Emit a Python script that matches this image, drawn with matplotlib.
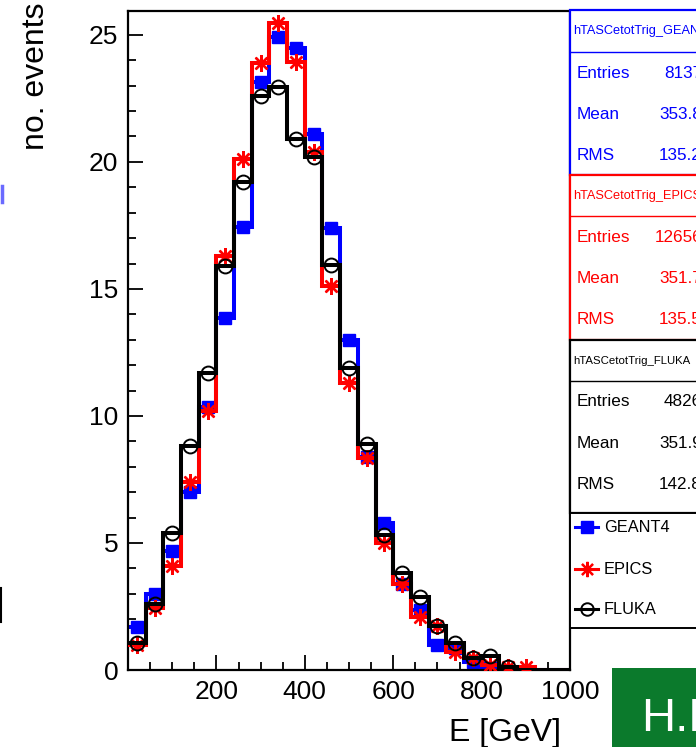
import numpy as np
import matplotlib
matplotlib.use("Agg")
import matplotlib.pyplot as plt
from matplotlib.patches import Rectangle
from matplotlib.lines import Line2D
from matplotlib.ticker import MultipleLocator

plt.rcParams['font.family'] = ['Liberation Sans', 'DejaVu Sans']

# ---------------- data ----------------
bin_edges = np.arange(0, 1001, 40)
geant4 = [1.69, 3.0, 4.7, 7.0, 10.35, 13.85, 17.45, 23.15, 24.9, 24.5, 21.1, 17.4, 13.0,
          8.4, 5.8, 3.4, 2.35, 1.0, 0.85, 0.33, 0.08, 0.0, 0.0, 0.0, 0.0]
epics = [1.0, 2.45, 4.1, 7.4, 10.2, 16.3, 20.1, 23.9, 25.45, 23.95, 20.4, 15.1, 11.3,
         8.35, 5.0, 3.4, 2.1, 1.73, 0.72, 0.47, 0.2, 0.12, 0.1, 0.0, 0.0]
fluka = [1.06, 2.6, 5.4, 8.8, 11.7, 15.9, 19.2, 22.6, 22.95, 20.9, 20.2, 15.95, 11.9,
         8.9, 5.3, 3.8, 2.87, 1.73, 1.06, 0.48, 0.55, 0.12, 0.0, 0.0, 0.0]

series_names = ['GEANT4', 'EPICS', 'FLUKA']
hist_names = ['hTASCetotTrig_GEANT4', 'hTASCetotTrig_EPICS', 'hTASCetotTrig_FLUKA']
stat_entries = ['8137', '12656', '4826']
stat_mean = ['353.8', '351.7', '351.9']
stat_rms = ['135.2', '135.5', '142.8']

x_ticks = [0, 200, 400, 600, 800, 1000]
x_tick_labels = ['', '200', '400', '600', '800', '1000']
y_ticks = [0, 5, 10, 15, 20, 25]
y_tick_labels = ['0', '5', '10', '15', '20', '25']

# ---------------- figure ----------------
W, H = 696, 747
fig = plt.figure(figsize=(W / 100, H / 100), dpi=100)
fig.patch.set_facecolor('white')

ax = fig.add_axes([128 / W, 1 - 670 / H, 442 / W, 659 / H])
centers = 0.5 * (bin_edges[:-1] + bin_edges[1:])

styles = [
    (geant4, '#0000ff', dict(marker='s', ms=9, mfc='#0000ff', mec='#0000ff', mew=1)),
    (epics, '#ff0000', dict(marker=(8, 2, 0), ms=12, mfc='none', mec='#ff0000', mew=1.7)),
    (fluka, '#000000', dict(marker='o', ms=10, mfc='none', mec='#000000', mew=1.4)),
]
z = 2
for vals, col, mk in styles:
    v = np.asarray(vals)
    ax.stairs(v, bin_edges, color=col, lw=2.9, baseline=None, zorder=z)
    m = v > 0
    ax.plot(centers[m], v[m], ls='none', zorder=z + 0.5, **mk)
    z += 1

ax.set_xlim(0, 1000)
ax.set_ylim(0, 25.94)
ax.set_xticks(x_ticks)
ax.set_xticklabels(x_tick_labels)
ax.set_yticks(y_ticks)
ax.set_yticklabels(y_tick_labels)
ax.xaxis.set_minor_locator(MultipleLocator(50))
ax.yaxis.set_minor_locator(MultipleLocator(1))
ax.tick_params(which='both', direction='in', top=False, right=False, width=1.3,
               labelsize=19, colors='black')
ax.tick_params(which='major', length=11)
ax.tick_params(which='minor', length=6)
ax.tick_params(axis='x', pad=7)
ax.tick_params(axis='y', pad=7)
for s in ax.spines.values():
    s.set_linewidth(1.6)

# axis titles (ROOT style, aligned to ends)
fig.text(561 / W, (H - 741) / H, 'E [GeV]', fontsize=23, ha='right', va='baseline')
fig.text(36 / W, 1 - 3 / H, 'no. events', fontsize=23, rotation=90, ha='center', va='top')

# ---------------- overlay (stat boxes, legend, slide bits) ----------------
ov = fig.add_axes([0, 0, 1, 1], zorder=10)
ov.set_xlim(0, W)
ov.set_ylim(H, 0)
ov.axis('off')
ov.patch.set_alpha(0)

box_x0, box_x1 = 570, 720
val_x = 702
box_specs = [
    # (top, header_line, bottom, colour, header_fs)
    (10, 52, 175, '#0000ff', 9.2),
    (175, 216, 340, '#ff0000', 9.2),
    (340, 381, 513, '#000000', 8.2),
]
for i, (top, hl, bot, col, hfs) in enumerate(box_specs):
    ov.add_patch(Rectangle((box_x0, top), box_x1 - box_x0, bot - top, fc='white',
                           ec=col, lw=1.6, zorder=1))
    ov.plot([box_x0, box_x1], [hl, hl], color=col, lw=1.0, zorder=2)
    ov.text(573, (top + hl) / 2, hist_names[i], color=col, fontsize=hfs,
            ha='left', va='center', zorder=3)
    rows = [('Entries', stat_entries[i]), ('Mean', stat_mean[i]), ('RMS', stat_rms[i])]
    for r, (lab, val) in enumerate(rows):
        yy = hl + 21 + 41.3 * r
        ov.text(577, yy, lab, color=col, fontsize=12.3, ha='left', va='center', zorder=3)
        ov.text(val_x, yy, val, color=col, fontsize=12.3, ha='right', va='center', zorder=3)

# legend box
ov.add_patch(Rectangle((box_x0, 513), box_x1 - box_x0, 628 - 513, fc='white',
                       ec='black', lw=1.4, zorder=1))
leg_y = [527, 569, 609]
leg_colors = ['#0000ff', '#ff0000', '#000000']
leg_markers = [dict(marker='s', ms=8, mfc='#0000ff', mec='#0000ff', mew=1),
               dict(marker=(8, 2, 0), ms=11, mfc='none', mec='#ff0000', mew=1.6),
               dict(marker='o', ms=9, mfc='none', mec='#000000', mew=1.4)]
for yy, col, mk, name in zip(leg_y, leg_colors, leg_markers, series_names):
    ov.plot([575, 598], [yy, yy], color=col, lw=2.2, zorder=3)
    ov.plot([586.5], [yy], ls='none', zorder=4, **mk)
    ov.text(604, yy, name, color='black', fontsize=11.8, ha='left', va='center', zorder=3)

# green slide badge
ov.add_patch(Rectangle((612, 668), 100, 100, fc='#0b7a2c', ec='none', zorder=1))
ov.text(641, 731, 'H.E', color='white', fontsize=34, ha='left', va='baseline', zorder=3)

# stray slide marks at the left edge
ov.add_line(Line2D([1.5, 1.5], [186, 202], color='#6a6aff', lw=2.5))
ov.add_line(Line2D([1, 1], [588, 622], color='black', lw=1.5))

fig.savefig('out.png', dpi=100)
